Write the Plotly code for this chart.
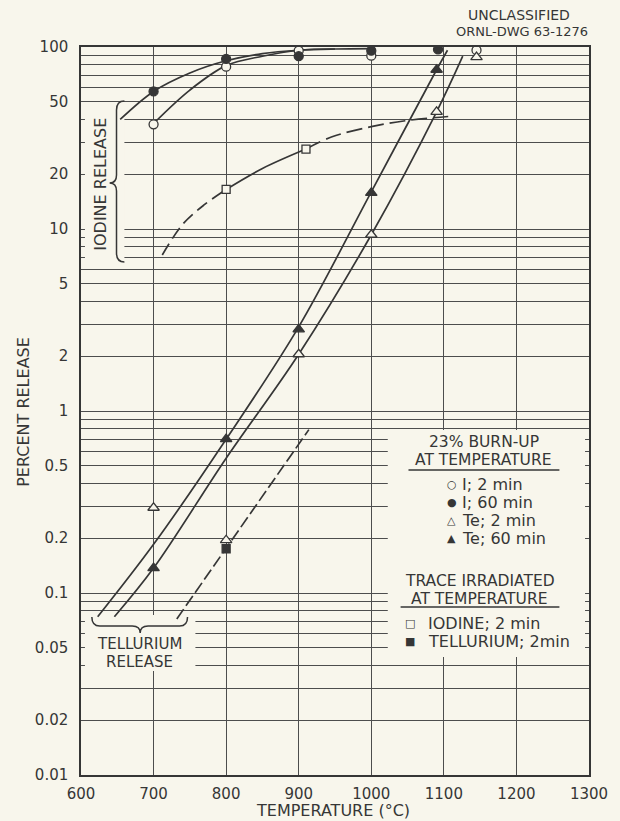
import plotly.graph_objects as go

BG = "#f8f6ec"
INK = "#363636"
GRID = "#4d4d4d"
FONT = "DejaVu Sans"

# ---- measured release data (percent) ----
i2_temp = [700, 800, 900, 1000, 1145]
i2_pct = [37.6, 78, 95.4, 89.6, 96]
i60_temp = [700, 800, 900, 1000, 1092]
i60_pct = [57, 86, 89, 95.4, 97]
te2_temp = [700, 800, 900, 1000, 1090, 1145]
te2_pct = [0.294, 0.195, 2.05, 9.3, 44, 88]
te60_temp = [700, 800, 900, 1000, 1090]
te60_pct = [0.137, 0.70, 2.81, 15.8, 75]
tri_temp = [800, 910]
tri_pct = [16.5, 27.5]
trte_temp = [800]
trte_pct = [0.175]

# ---- faired curves ----
c_i60_temp = [654, 700, 750, 800, 850, 900, 950, 1000]
c_i60_pct = [40, 57, 72, 84, 92, 96, 97.5, 98]
c_i2_temp = [700, 750, 800, 850, 900, 950]
c_i2_pct = [38, 58, 79, 89, 96, 97.5]
c_tri_temp = [712, 740, 770, 800, 850, 910, 945, 1000, 1050, 1106]
c_tri_pct = [7.2, 10.6, 13.6, 16.5, 21.5, 27.5, 32, 36.5, 39.5, 41.5]
c_te60_temp = [623, 700, 800, 900, 1000, 1090, 1105]
c_te60_pct = [0.074, 0.185, 0.70, 2.9, 16, 75, 96]
c_te2_temp = [646, 700, 800, 900, 1000, 1090, 1126]
c_te2_pct = [0.074, 0.137, 0.55, 2.05, 9.3, 44, 89]
c_trte_temp = [732, 914]
c_trte_pct = [0.072, 0.79]

# ---- axis ticks ----
x_ticks = [600, 700, 800, 900, 1000, 1100, 1200, 1300]
y_grid = [m * 10 ** e for e in (-2, -1, 0, 1) for m in range(1, 10)] + [100]
y_labels = {0.01: "0.01", 0.02: "0.02", 0.05: "0.05", 0.1: "0.1", 0.2: "0.2",
            0.5: "0.5", 1: "1", 2: "2", 5: "5", 10: "10", 20: "20", 50: "50", 100: "100"}

W, H = 620, 821
L, R, T, B = 81, 24, 47, 46
PW, PH = W - L - R, H - T - B


def fx(p):
    return (p - L) / PW


def fy(p):
    return (H - B - p) / PH


def dx(p):
    # page pixel column -> temperature
    return 600 + fx(p) * 700


def dy(p):
    # page pixel row -> percent (log scale)
    return 10 ** (-2 + fy(p) * 4)


def path(cmds):
    out = []
    for c in cmds:
        if isinstance(c, str):
            out.append(c)
        else:
            out.append(f"{fx(c[0]):.5f},{fy(c[1]):.5f}")
    return " ".join(out)


fig = go.Figure()

line_style = dict(color=INK, width=1.7)


def curve(xs, ys, dash="solid", shape="spline"):
    fig.add_trace(go.Scatter(x=xs, y=ys, mode="lines", line=dict(line_style, dash=dash, shape=shape),
                             hoverinfo="skip", showlegend=False))


curve(c_i60_temp, c_i60_pct)
curve(c_i2_temp, c_i2_pct)
# trace-irradiated iodine: dashed ends, solid between the two points
k0 = c_tri_temp.index(800)
k1 = c_tri_temp.index(910)
curve(c_tri_temp[:k0 + 1], c_tri_pct[:k0 + 1], dash="13px,6px")
curve(c_tri_temp[k0:k1 + 1], c_tri_pct[k0:k1 + 1])
curve(c_tri_temp[k1:], c_tri_pct[k1:], dash="16px,6px")
curve(c_te60_temp, c_te60_pct)
curve(c_te2_temp, c_te2_pct)
curve(c_trte_temp, c_trte_pct, dash="12px,4px", shape="linear")


def pts(xs, ys, symbol, filled, size):
    fig.add_trace(go.Scatter(
        x=xs, y=ys, mode="markers", hoverinfo="skip", showlegend=False,
        marker=dict(symbol=symbol, size=size, color=INK if filled else BG,
                    line=dict(color=INK, width=1.3))))


pts(i2_temp, i2_pct, "circle", False, 9)
pts(i60_temp, i60_pct, "circle", True, 9)
pts(te2_temp, te2_pct, "triangle-up", False, 10)
pts(te60_temp, te60_pct, "triangle-up", True, 10)
pts(tri_temp, tri_pct, "square", False, 8)
pts(trte_temp, trte_pct, "square", True, 8)

shapes = []
# blank panels behind labels and key (hide the grid there)
for x0, y0, x1, y1 in [(85, 108, 125, 264), (85, 615, 197, 671), (392, 430, 592, 657)]:
    shapes.append(dict(type="rect", xref="x", yref="y", x0=dx(x0), x1=dx(x1),
                       y0=dy(y1), y1=dy(y0), fillcolor=BG, line=dict(width=0), layer="between"))
# braces
shapes.append(dict(type="path", xref="paper", yref="paper", layer="above",
                   line=dict(color=INK, width=1.5),
                   path=path(["M", (125, 101), "Q", (117, 101), (117, 110), "L", (117, 175),
                              "Q", (117, 183), (110, 183), "Q", (117, 183), (117, 191),
                              "L", (117, 253), "Q", (117, 262), (125, 262)])))
shapes.append(dict(type="path", xref="paper", yref="paper", layer="above",
                   line=dict(color=INK, width=1.5),
                   path=path(["M", (92, 617), "Q", (92, 626), (100, 626), "L", (133, 626),
                              "Q", (141, 626), (141, 633), "Q", (141, 626), (149, 626),
                              "L", (181, 626), "Q", (189, 626), (189, 617)])))
# key underlines
for x0, x1, y in [(413, 566, 470), (405, 566, 607)]:
    shapes.append(dict(type="line", xref="paper", yref="paper", x0=fx(x0), x1=fx(x1),
                       y0=fy(y), y1=fy(y), line=dict(color=INK, width=1.4), layer="above"))

ann = []


def text(s, x, y, size=15, anchor="center", angle=0):
    ann.append(dict(text=s, xref="paper", yref="paper", x=fx(x), y=fy(y), showarrow=False,
                    xanchor=anchor, yanchor="middle", textangle=angle,
                    font=dict(family=FONT, size=size, color=INK)))


text("UNCLASSIFIED", 525, 15, 14)
text("ORNL-DWG 63-1276", 528, 31, 13)
text("IODINE RELEASE", 100, 184, 16, angle=-90)
text("TELLURIUM", 140, 644, 15)
text("RELEASE", 140, 662, 15)
text("PERCENT RELEASE", 22, 412, 16, angle=-90)
text("TEMPERATURE (°C)", 336, 810, 16)

text("23% BURN-UP", 490, 442, 15.5)
text("AT TEMPERATURE", 489, 460, 15.5)
for glyph, label, y in [("○", "I; 2 min", 484), ("●", "I; 60 min", 502),
                        ("△", "Te; 2 min", 520), ("▲", "Te; 60 min", 538)]:
    text(glyph, 457, y, 11)
    text(label, 465, y, 16, anchor="left")
text("TRACE IRRADIATED", 486, 581, 15.5)
text("AT TEMPERATURE", 485, 599, 15.5)
for glyph, label, y in [("□", "IODINE; 2 min", 623), ("■", "TELLURIUM; 2min", 641)]:
    text(glyph, 415, y, 11)
    text(label, 431, y, 16, anchor="left")

fig.update_layout(
    width=W, height=H, margin=dict(l=L, r=R, t=T, b=B),
    paper_bgcolor=BG, plot_bgcolor=BG,
    shapes=shapes, annotations=ann,
    xaxis=dict(range=[600, 1300], tickvals=x_ticks, ticktext=[str(v) for v in x_ticks],
               showgrid=True, gridcolor=GRID, gridwidth=1, zeroline=False,
               showline=True, linecolor=INK, linewidth=1.5, mirror=True, ticks="",
               tickfont=dict(family=FONT, size=15, color=INK), ticklabelstandoff=4),
    yaxis=dict(type="log", range=[-2, 2], tickvals=y_grid,
               ticktext=[y_labels.get(round(v, 4), "") for v in y_grid],
               showgrid=True, gridcolor=GRID, gridwidth=1, zeroline=False,
               showline=True, linecolor=INK, linewidth=1.5, mirror=True, ticks="",
               tickfont=dict(family=FONT, size=15, color=INK), ticklabelstandoff=8),
)

fig.write_html("out.html")
